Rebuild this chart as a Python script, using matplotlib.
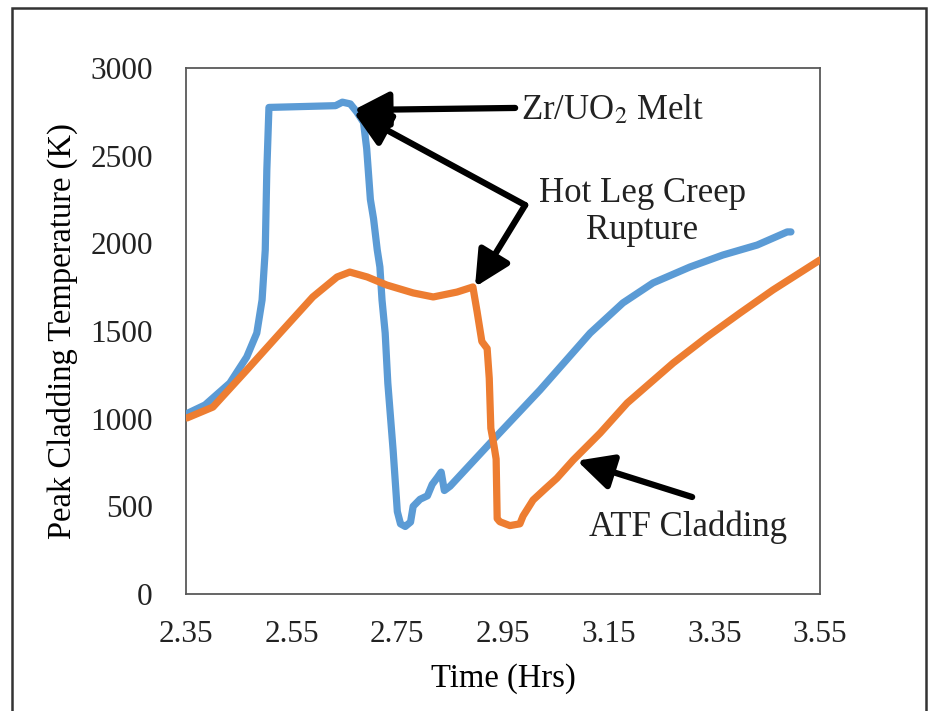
import numpy as np
import matplotlib
matplotlib.use("Agg")
import matplotlib.pyplot as plt
from matplotlib.patches import Rectangle

plt.rcParams['font.family'] = ['Liberation Serif', 'DejaVu Serif']
plt.rcParams['mathtext.fontset'] = 'stix'

# Zr cladding (blue) - time in hrs, peak cladding temp in K
blue_t = [2.354, 2.386, 2.433, 2.465, 2.484, 2.494, 2.500, 2.503, 2.507,
          2.633, 2.646, 2.661, 2.673, 2.686, 2.692, 2.699, 2.705, 2.712, 2.717,
          2.721, 2.727, 2.732, 2.742, 2.750, 2.756, 2.765, 2.775, 2.780, 2.793,
          2.807, 2.816, 2.826, 2.833, 2.839, 2.850, 2.931, 3.020, 3.115, 3.177,
          3.234, 3.304, 3.366, 3.431, 3.488, 3.495]
blue_temp = [1032, 1078, 1203, 1352, 1488, 1677, 1962, 2418, 2775,
             2785, 2805, 2795, 2750, 2690, 2540, 2250, 2140, 1962, 1865,
             1677, 1488, 1203, 821, 470, 400, 385, 410, 500, 540,
             560, 625, 665, 695, 590, 615, 878, 1163, 1488, 1660,
             1774, 1865, 1933, 1990, 2065, 2065]

# ATF cladding (orange)
orange_t = [2.352, 2.401, 2.465, 2.528, 2.590, 2.636, 2.660, 2.693, 2.730,
            2.780, 2.818, 2.863, 2.893, 2.901, 2.910, 2.920, 2.924, 2.927,
            2.933, 2.937, 2.939, 2.944, 2.963, 2.982, 2.988, 3.007, 3.030,
            3.052, 3.083, 3.134, 3.185, 3.272, 3.336, 3.399, 3.461, 3.550]
orange_temp = [1004, 1066, 1277, 1488, 1694, 1808, 1836, 1808, 1762,
               1717, 1694, 1722, 1751, 1610, 1440, 1400, 1230, 945,
               845, 770, 430, 412, 390, 400, 445, 536, 600,
               660, 764, 918, 1089, 1317, 1466, 1603, 1734, 1905]

x_ticks = [2.35, 2.55, 2.75, 2.95, 3.15, 3.35, 3.55]
y_ticks = [0, 500, 1000, 1500, 2000, 2500, 3000]

fig = plt.figure(figsize=(9.3, 7.11), dpi=100)
ax = fig.add_axes([0.2, 0.1646, 0.6817, 0.7398])

ax.plot(blue_t, blue_temp, color='#5B9BD5', lw=5.2, solid_joinstyle='round',
        solid_capstyle='round', zorder=3)
ax.plot(orange_t, orange_temp, color='#ED7D31', lw=5.2, solid_joinstyle='round',
        solid_capstyle='round', zorder=3)

ax.set_xlim(2.35, 3.55)
ax.set_ylim(0, 3000)
ax.set_xticks(x_ticks)
ax.set_xticklabels([f"{v:.2f}" for v in x_ticks])
ax.set_yticks(y_ticks)
ax.tick_params(length=0, labelsize=22.5, colors='#222222')
ax.tick_params(axis='x', pad=19)
ax.tick_params(axis='y', pad=24)
for s in ax.spines.values():
    s.set_color('#595959')
    s.set_linewidth(1.3)

ax.set_xlabel('Time (Hrs)', fontsize=23.5, labelpad=10)
ax.set_ylabel('Peak Cladding Temperature (K)', fontsize=23.5, labelpad=9)

# annotations
arrow = dict(arrowstyle='-|>,head_length=0.9,head_width=0.45', lw=4.5,
             color='black', mutation_scale=24, shrinkA=0, shrinkB=0)
ax.annotate('', xy=(2.667, 2760), xytext=(2.973, 2772), arrowprops=arrow, zorder=5)
ax.annotate('', xy=(2.667, 2749), xytext=(2.992, 2218), arrowprops=arrow, zorder=5)
ax.annotate('', xy=(2.897, 1751), xytext=(2.992, 2218), arrowprops=arrow, zorder=5)
ax.annotate('', xy=(3.090, 760), xytext=(3.308, 553), arrowprops=arrow, zorder=5)

fig.text(521 / 930, 1 - 110 / 711, 'Zr/UO$_2$ Melt', fontsize=25,
         ha='left', va='center', color='#222222')
fig.text(642 / 930, 1 - 212 / 711, 'Hot Leg Creep\nRupture', fontsize=25,
         ha='center', va='center', linespacing=1.15, color='#222222')
fig.text(688 / 930, 1 - 527 / 711, 'ATF Cladding', fontsize=25,
         ha='center', va='center', color='#222222')

# outer frame of the figure
fig.patches.append(Rectangle((12 / 930, -0.05), 914 / 930, 1.05 - 8 / 711,
                             transform=fig.transFigure, fill=False,
                             edgecolor='#333333', lw=1.8))

fig.savefig('out.png', dpi=100)
